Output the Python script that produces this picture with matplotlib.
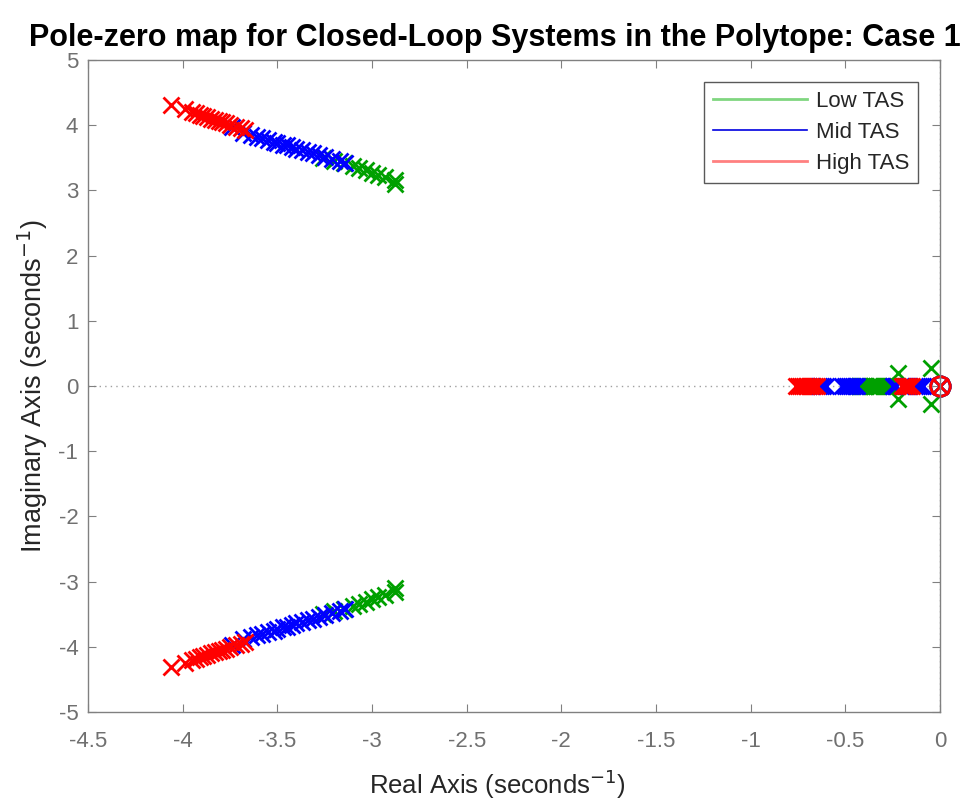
import numpy as np
import matplotlib
matplotlib.use("Agg")
import matplotlib.pyplot as plt
from matplotlib.lines import Line2D

plt.rcParams['font.family'] = ['Liberation Sans', 'DejaVu Sans']

# Complex closed-loop poles (upper half-plane; the conjugates are mirrored)
high_cx_re = [-4.06, -3.99, -3.95, -3.93, -3.91, -3.89, -3.87, -3.85, -3.83,
              -3.81, -3.79, -3.77, -3.75, -3.72, -3.69, -3.67]
high_cx_im = [4.31, 4.25, 4.20, 4.18, 4.16, 4.14, 4.12, 4.10, 4.08,
              4.06, 4.05, 4.03, 4.01, 3.98, 3.95, 3.93]

mid_cx_re = [-3.74, -3.68, -3.64, -3.61, -3.58, -3.55, -3.52, -3.50, -3.47, -3.45,
             -3.42, -3.40, -3.37, -3.34, -3.31, -3.28, -3.25, -3.21, -3.17, -3.14]
mid_cx_im = [3.97, 3.88, 3.85, 3.82, 3.80, 3.77, 3.75, 3.73, 3.70, 3.69,
             3.66, 3.64, 3.62, 3.59, 3.57, 3.54, 3.51, 3.48, 3.45, 3.42]

low_cx_re = [-3.26, -3.20, -3.15, -3.10, -3.07, -3.03, -3.00, -2.97, -2.93, -2.88, -2.88,
             -0.22, -0.05]
low_cx_im = [3.50, 3.45, 3.42, 3.38, 3.35, 3.31, 3.27, 3.24, 3.21, 3.16, 3.10,
             0.20, 0.27]

# Real closed-loop poles
high_real = [-0.76, -0.75, -0.74, -0.73, -0.72, -0.71, -0.70, -0.69, -0.68, -0.67,
             -0.66, -0.65, -0.20, -0.19, -0.18, -0.17, -0.16, -0.15, 0.0]
mid_real = [-0.64, -0.63, -0.62, -0.60, -0.52, -0.50, -0.49, -0.48, -0.47, -0.46,
            -0.45, -0.44, -0.25, -0.24, -0.23, -0.13, -0.12, -0.11, -0.10, -0.09, 0.0]
low_real = [-0.43, -0.42, -0.41, -0.40, -0.39, -0.37, -0.36, -0.35, -0.34, -0.33,
            -0.32, -0.30, -0.29, -0.28, -0.27, -0.26, 0.0]

# Zeros
low_zeros = [-0.385, -0.345, -0.315, -0.28, 0.0]
mid_zeros = [0.0]
high_zeros = [0.0]

groups = [
    ("Low TAS", "#00a000", "#80d680", low_cx_re, low_cx_im, low_real, low_zeros),
    ("Mid TAS", "#0000ff", "#0000e0", mid_cx_re, mid_cx_im, mid_real, mid_zeros),
    ("High TAS", "#ff0000", "#ff8080", high_cx_re, high_cx_im, high_real, high_zeros),
]

fig = plt.figure(figsize=(9.66, 8.0), dpi=100)
ax = fig.add_axes([0.0911, 0.11, 0.882, 0.815])

# Dotted reference lines through the origin
ax.axhline(0, color="#a0a0a0", linestyle=(0, (1, 3)), linewidth=1.0, zorder=0)
ax.axvline(0, color="#a0a0a0", linestyle=(0, (1, 3)), linewidth=1.0, zorder=0)

for name, col, lcol, cre, cim, rre, zre in groups:
    cre = np.asarray(cre)
    cim = np.asarray(cim)
    pre = np.concatenate([cre, cre, np.asarray(rre)])
    pim = np.concatenate([cim, -cim, np.zeros(len(rre))])
    ax.plot(pre, pim, linestyle="none", marker="x", markersize=11,
            markeredgewidth=2.0, color=col, clip_on=False)
    for z in zre:
        s = 14 if z == 0.0 else 7
        ax.plot([z], [0.0], linestyle="none", marker="o", markersize=s,
                markeredgewidth=2.0, markerfacecolor="none", color=col,
                clip_on=False)

ax.set_xlim(-4.5, 0)
ax.set_ylim(-5, 5)
ax.set_xticks(np.arange(-4.5, 0.01, 0.5))
ax.set_xticklabels(["-4.5", "-4", "-3.5", "-3", "-2.5", "-2", "-1.5", "-1", "-0.5", "0"])
ax.set_yticks(np.arange(-5, 5.01, 1))
ax.set_yticklabels([str(v) for v in range(-5, 6)])

grey = "#707070"
for sp in ax.spines.values():
    sp.set_color("#808080")
    sp.set_linewidth(1.0)
ax.tick_params(direction="in", length=6, width=0.8, colors="#808080",
               labelcolor=grey, labelsize=16, top=True, right=True, pad=7)
ax.tick_params(axis="x", pad=14)

ax.set_xlabel("Real Axis (seconds$^{-1}$)", fontsize=18.5, color="#262626", labelpad=10)
ax.xaxis.set_label_coords(0.481, -0.085)
ax.set_ylabel("Imaginary Axis (seconds$^{-1}$)", fontsize=19.5, color="#262626", labelpad=6)
ax.set_title("Pole-zero map for Closed-Loop Systems in the Polytope: Case 1",
             fontsize=22, fontweight="bold", color="#000000", pad=10, x=0.478)

handles = [Line2D([0], [0], color=g[2], linewidth=2.0 if g[0] != "Mid TAS" else 1.2)
           for g in groups]
leg = ax.legend(handles, [g[0] for g in groups], loc="upper right",
                fontsize=16, frameon=True, fancybox=False, handlelength=4.2,
                borderpad=0.4, labelspacing=0.45, handletextpad=0.4,
                borderaxespad=0.0, bbox_to_anchor=(0.974, 0.966))
leg.get_frame().set_edgecolor("#303030")
leg.get_frame().set_linewidth(1.0)
for t in leg.get_texts():
    t.set_color("#262626")

fig.savefig("out.png", dpi=100, facecolor="white")
